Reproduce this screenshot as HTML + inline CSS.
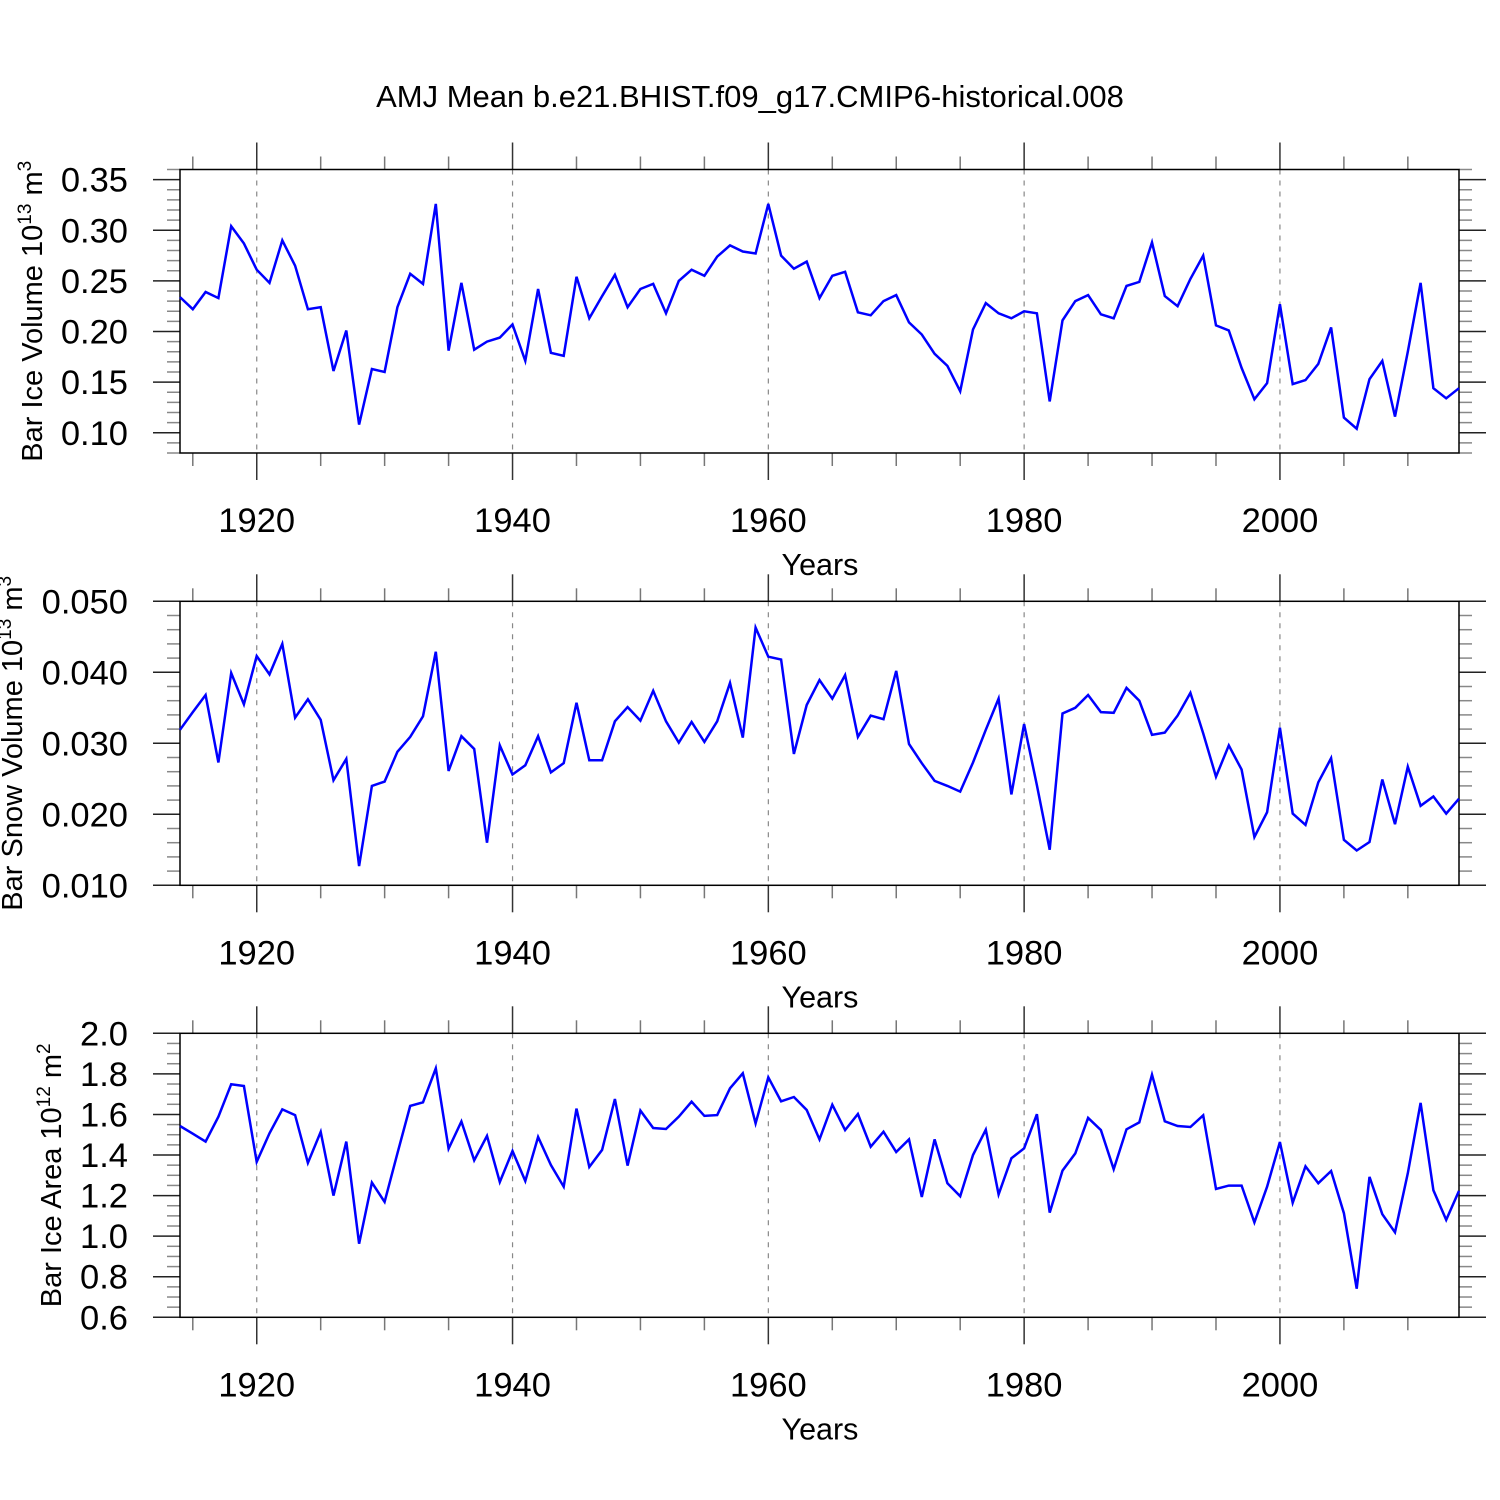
<!DOCTYPE html>
<html><head><meta charset="utf-8"><style>
html,body{margin:0;padding:0;background:#fff;}
svg{display:block;font-family:"Liberation Sans",Arial,sans-serif;}
</style></head><body>
<svg id="chart" width="1500" height="1500" viewBox="0 0 1500 1500" xmlns="http://www.w3.org/2000/svg">
<rect width="1500" height="1500" fill="#fff"/>
<text x="750" y="107" font-size="31" text-anchor="middle">AMJ Mean b.e21.BHIST.f09_g17.CMIP6-historical.008</text>
</svg>
<script>
const years = [];
for (let y = 1914; y <= 2014; y++) years.push(y);
const iceVolume = [.234,.222,.239,.233,.304,.287,.261,.248,.290,.265,.222,.224,.161,.201,.108,.163,.160,.224,.257,.247,.326,.181,.248,.182,.190,.194,.207,.171,.242,.179,.176,.254,.213,.235,.256,.224,.242,.247,.218,.250,.261,.255,.274,.285,.279,.277,.326,.275,.262,.269,.233,.255,.259,.219,.216,.230,.236,.209,.197,.178,.166,.141,.202,.228,.218,.213,.220,.218,.131,.211,.230,.236,.217,.213,.245,.249,.288,.235,.225,.252,.275,.206,.201,.164,.133,.149,.227,.148,.152,.168,.204,.115,.104,.153,.171,.116,.180,.248,.144,.134,.144];
const snowVolume = [.0319,.0344,.0368,.0273,.0399,.0355,.0423,.0397,.0440,.0336,.0362,.0333,.0248,.0278,.0127,.0240,.0246,.0288,.0309,.0338,.0429,.0261,.0310,.0292,.0160,.0297,.0256,.0269,.0310,.0259,.0272,.0357,.0276,.0276,.0331,.0351,.0332,.0374,.0331,.0301,.0330,.0302,.0331,.0385,.0308,.0463,.0422,.0418,.0285,.0354,.0389,.0363,.0396,.0309,.0339,.0334,.0402,.0299,.0272,.0247,.0240,.0232,.0273,.0319,.0363,.0228,.0327,.0241,.0150,.0342,.0350,.0368,.0344,.0343,.0378,.0360,.0312,.0315,.0339,.0371,.0314,.0253,.0297,.0263,.0168,.0203,.0322,.0201,.0185,.0245,.0279,.0164,.0149,.0161,.0249,.0186,.0267,.0212,.0225,.0201,.0222];
const iceArea = [1.543,1.505,1.466,1.589,1.749,1.740,1.366,1.507,1.625,1.597,1.361,1.514,1.200,1.466,0.963,1.264,1.169,1.408,1.642,1.660,1.827,1.431,1.565,1.374,1.494,1.267,1.420,1.272,1.489,1.351,1.244,1.629,1.341,1.425,1.676,1.348,1.619,1.533,1.528,1.589,1.663,1.593,1.597,1.729,1.803,1.556,1.783,1.665,1.686,1.622,1.477,1.648,1.523,1.602,1.441,1.515,1.415,1.477,1.193,1.477,1.261,1.197,1.400,1.525,1.206,1.384,1.433,1.601,1.116,1.323,1.408,1.583,1.523,1.330,1.527,1.561,1.796,1.566,1.543,1.538,1.596,1.233,1.249,1.249,1.068,1.244,1.464,1.165,1.344,1.261,1.321,1.113,0.741,1.292,1.108,1.019,1.310,1.657,1.226,1.080,1.223];
const xTickLabels = [1920,1940,1960,1980,2000];
const yTicks1 = ["0.10","0.15","0.20","0.25","0.30","0.35"];
const yTicks2 = ["0.010","0.020","0.030","0.040","0.050"];
const yTicks3 = ["0.6","0.8","1.0","1.2","1.4","1.6","1.8","2.0"];

const NS = "http://www.w3.org/2000/svg";
const svg = document.getElementById('chart');
const X0 = 180, X1 = 1459, YMIN = 1914, YMAX = 2014;
const xs = y => X0 + (y - YMIN) / (YMAX - YMIN) * (X1 - X0);
function mk(tag, attrs, parent) {
  const e = document.createElementNS(NS, tag);
  for (const k in attrs) e.setAttribute(k, attrs[k]);
  (parent || svg).appendChild(e);
  return e;
}
function panel(key, top, bot, vmin, vmax, majorStep, minorStep, ticks, vals, titleHTML, titleX) {
  const g = mk('g', {});
  
  
  const ys = v => bot - (v - vmin) / (vmax - vmin) * (bot - top);
  xTickLabels.forEach(yr => {
    const l = mk('line', {x1: xs(yr), x2: xs(yr), y1: top, y2: bot, stroke: '#888', 'stroke-width': 1.2, 'stroke-dasharray': '5 6'}, g);
    
    
  });
  for (let yr = 1915; yr <= 2010; yr += 5) {
    const major = yr % 20 === 0;
    const len = major ? 27 : 13;
    const c = major ? '#333' : '#777';
    mk('line', {x1: xs(yr), x2: xs(yr), y1: top, y2: top - len, stroke: c, 'stroke-width': 1.5}, g);
    mk('line', {x1: xs(yr), x2: xs(yr), y1: bot, y2: bot + len, stroke: c, 'stroke-width': 1.5}, g);
  }
  const nMin = Math.round((vmax - vmin) / minorStep);
  for (let i = 0; i <= nMin; i++) {
    const v = vmin + i * minorStep;
    const r = Math.abs(v / majorStep - Math.round(v / majorStep)) < 1e-6;
    const major = r && v >= parseFloat(ticks[0]) - 1e-9;
    const len = major ? 27 : 13;
    const c = major ? '#222' : '#888';
    const y = ys(v);
    mk('line', {x1: X0, x2: X0 - len, y1: y, y2: y, stroke: c, 'stroke-width': 1.5}, g);
    mk('line', {x1: X1, x2: X1 + len, y1: y, y2: y, stroke: c, 'stroke-width': 1.5}, g);
  }
  ticks.forEach(t => {
    const tx = mk('text', {x: 128, y: ys(parseFloat(t)) + 12, 'font-size': 34.5, 'text-anchor': 'end'}, g);
    
    
    tx.textContent = t;
  });
  xTickLabels.forEach(yr => {
    const tx = mk('text', {x: xs(yr), y: bot + 79, 'font-size': 34.5, 'text-anchor': 'middle'}, g);
    
    
    tx.textContent = yr;
  });
  const xt = mk('text', {x: 820, y: bot + 122, 'font-size': 30.5, 'text-anchor': 'middle'}, g);
  
  
  xt.textContent = 'Years';
  const yt = mk('text', {x: 0, y: 0, 'font-size': 29, 'text-anchor': 'middle', transform: `translate(${titleX},${(top + bot) / 2}) rotate(-90)`}, g);
  
  
  yt.innerHTML = titleHTML;
  const fr = mk('rect', {x: X0, y: top, width: X1 - X0, height: bot - top, fill: 'none', stroke: '#000', 'stroke-width': 1.5}, g);
  
  
  const pts = vals.map((v, i) => xs(years[i]).toFixed(1) + ',' + ys(v).toFixed(1)).join(' ');
  const pl = mk('polyline', {points: pts, fill: 'none', stroke: '#0000ff', 'stroke-width': 2.5, 'stroke-linejoin': 'miter'}, g);
  
  
}
const sup = s => `<tspan dy="-11" font-size="19">${s}</tspan><tspan dy="11"> </tspan>`;
panel('ice-volume', 169.5, 453, 0.08, 0.36, 0.05, 0.01, yTicks1, iceVolume,
  'Bar Ice Volume 10' + sup('13') + 'm' + '<tspan dy="-11" font-size="19">3</tspan>', 42);
panel('snow-volume', 601.3, 885.3, 0.010, 0.050, 0.010, 0.002, yTicks2, snowVolume,
  'Bar Snow Volume 10' + sup('13') + 'm' + '<tspan dy="-11" font-size="19">3</tspan>', 22);
panel('ice-area', 1033.3, 1317.3, 0.6, 2.0, 0.2, 0.05, yTicks3, iceArea,
  'Bar Ice Area 10' + sup('12') + 'm' + '<tspan dy="-11" font-size="19">2</tspan>', 61);
</script>
</body></html>
